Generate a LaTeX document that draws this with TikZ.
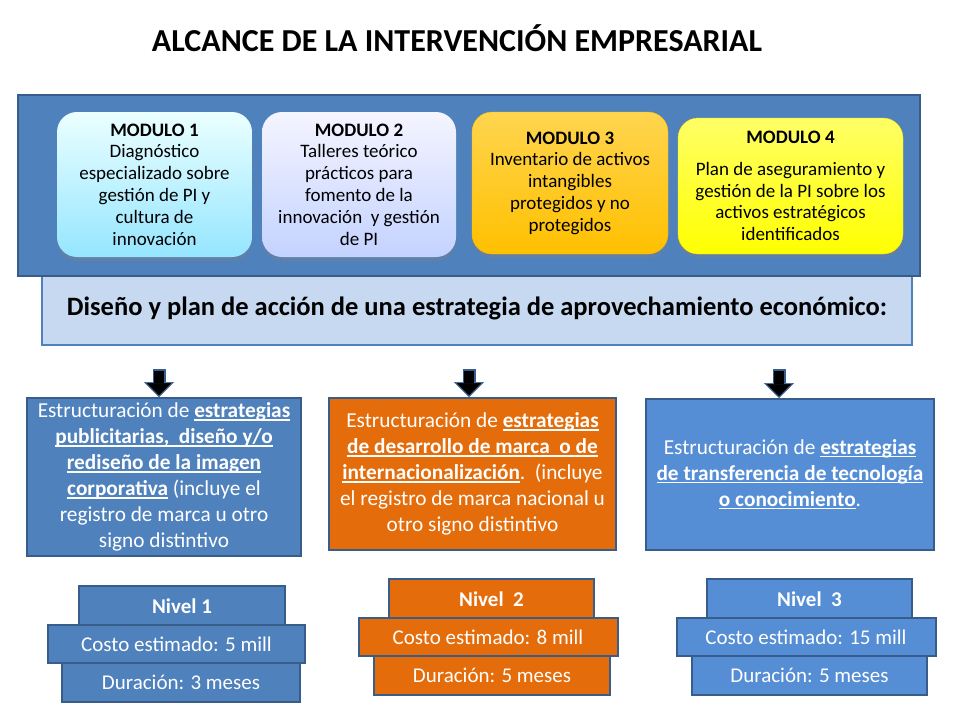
\documentclass[tikz,border=0pt]{standalone}
\usepackage{fontspec}
\setmainfont{Carlito}
\usepackage{tikz}
\usetikzlibrary{shapes, arrows, calc, positioning, backgrounds, fit, shadows}
\usetikzlibrary{arrows.meta}
\definecolor{azulpanel}{HTML}{4F81BD}
\definecolor{azulborde}{HTML}{385D8A}
\definecolor{azulclaro}{HTML}{C6D9F1}
\definecolor{azulmedio}{HTML}{558ED5}
\definecolor{naranja}{HTML}{E46C0A}
\definecolor{ambar}{HTML}{FFC000}
\definecolor{ambarclaro}{HTML}{FFD54F}
\newcommand{\subr}[1]{\setbox0\hbox{#1}\rlap{\rule[-3pt]{\wd0}{1.4pt}}\box0\relax}

\begin{document}
\begin{tikzpicture}[
    x=1pt, y=-1pt,
    every node/.style={inner sep=0pt, align=center},
    modulo/.style={rectangle, rounded corners=20pt, font=\fontsize{19}{21.8}\selectfont,
        drop shadow={shadow xshift=0pt, shadow yshift=-4pt, opacity=.35}},
    estrategia/.style={rectangle, draw=azulborde, line width=2pt, text=white,
        font=\fontsize{21.3}{26}\selectfont},
    nivel/.style={rectangle, draw=azulborde, line width=2pt, text=white,
        minimum height=40pt, font=\fontsize{21}{22}\selectfont},
    flecha borde/.style={azulborde, line width=13pt, shorten <=23pt,
        -{Triangle[width=30pt, length=15pt, line width=.5pt]}},
    flecha/.style={black, line width=9.5pt, shorten <=24.5pt, shorten >=2pt,
        -{Triangle[width=24pt, length=12pt, line width=.5pt]}}
]
\useasboundingbox (0,0) rectangle (960,720);
% Title
\node[font=\fontsize{32}{34}\selectfont\bfseries] (titulo) at (457,38)
    {ALCANCE DE LA INTERVENCIÓN EMPRESARIAL};
% Banner and module panel
\node[rectangle, draw=azulpanel, line width=2pt, fill=azulclaro,
      minimum width=870pt, minimum height=73pt,
      font=\fontsize{26.5}{28}\selectfont\bfseries] (diseno) at (477,308.5)
    {Diseño y plan de acción de una estrategia de aprovechamiento económico:};
\node[rectangle, draw=azulborde, line width=2pt, fill=azulpanel,
      minimum width=902pt, minimum height=181pt] (panel) at (469,185.5) {};
% Modules
\node[modulo, top color=cyan!8, bottom color=cyan!35!white!90!blue,
      minimum width=195pt, minimum height=145pt] (mod1) at (154.5,184.5)
    {\textbf{MODULO 1}\\Diagnóstico\\especializado sobre\\gestión de PI y\\cultura de\\innovación};
\node[modulo, top color=blue!4, bottom color=blue!30!cyan!10!white!85!blue,
      minimum width=194pt, minimum height=145pt] (mod2) at (359,184.5)
    {\textbf{MODULO 2}\\Talleres teórico\\prácticos para\\fomento de la\\innovación\ \ y gestión\\de PI};
\node[modulo, draw=ambar!90!orange, top color=ambarclaro, bottom color=ambar,
      minimum width=196pt, minimum height=142pt] (mod3) at (570,183)
    {\textbf{MODULO 3}\\Inventario de activos\\intangibles\\protegidos y no\\protegidos};
\node[modulo, draw=yellow!80!orange, top color=yellow!60!white, bottom color=yellow,
      minimum width=225pt, minimum height=136pt] (mod4) at (790.5,186)
    {\textbf{MODULO 4}\\[10pt]Plan de aseguramiento y\\gestión de la PI sobre los\\activos estratégicos\\identificados};
% Strategy boxes
\node[estrategia, fill=azulpanel, minimum width=274pt, minimum height=158pt] (estr1) at (164,477)
    {Estructuración de \subr{\textbf{estrategias}}\\
     \subr{\textbf{publicitarias,\ \ diseño y/o}}\\
     \subr{\textbf{rediseño de la imagen}}\\
     \subr{\textbf{corporativa}} (incluye el\\
     registro de marca u otro\\
     signo distintivo};
\node[estrategia, fill=naranja, minimum width=287pt, minimum height=152pt] (estr2) at (472.5,474)
    {Estructuración de \subr{\textbf{estrategias}}\\
     \subr{\textbf{de desarrollo de marca\ \ o de}}\\
     \subr{\textbf{internacionalización}}.\ \ (incluye\\
     el registro de marca nacional u\\
     otro signo distintivo};
\node[estrategia, fill=azulmedio, minimum width=288pt, minimum height=151pt] (estr3) at (790,474.5)
    {Estructuración de \subr{\textbf{estrategias}}\\
     \subr{\textbf{de transferencia de tecnología}}\\
     \subr{\textbf{o conocimiento}}.};
% Block arrows
\foreach \e/\dx in {estr1/-5, estr2/-3.5, estr3/-11} {
    \draw[flecha borde] ([xshift=\dx pt]\e.north |- diseno.south) -- ([xshift=\dx pt]\e.north);
    \draw[flecha] ([xshift=\dx pt]\e.north |- diseno.south) -- ([xshift=\dx pt]\e.north);
}
% Level stacks
\node[nivel, fill=azulpanel, minimum width=257pt, minimum height=38pt] (costo1) at (176.5,644) {Costo estimado: 5 mill};
\node[nivel, fill=naranja, minimum width=259pt, minimum height=38pt] (costo2) at (488,637) {Costo estimado: 8 mill};
\node[nivel, fill=azulmedio, minimum width=259pt, minimum height=38pt] (costo3) at (806,637) {Costo estimado: 15 mill};
\begin{scope}[on background layer]
    \node[nivel, fill=azulpanel, minimum width=206pt, above=-3pt of costo1, xshift=5.5pt, font=\fontsize{21}{22}\selectfont\bfseries] (nivel1) {Nivel 1};
    \node[nivel, fill=azulpanel, minimum width=238pt, below=-3pt of costo1, xshift=4.5pt] (dur1) {Duración: 3 meses};
    \node[nivel, fill=naranja, minimum width=205pt, above=-3pt of costo2, xshift=3.5pt, font=\fontsize{21}{22}\selectfont\bfseries] (nivel2) {Nivel\ \ 2};
    \node[nivel, fill=naranja, minimum width=236pt, below=-3pt of costo2, xshift=4pt] (dur2) {Duración: 5 meses};
    \node[nivel, fill=azulmedio, minimum width=205pt, above=-3pt of costo3, xshift=3.5pt, font=\fontsize{21}{22}\selectfont\bfseries] (nivel3) {Nivel\ \ 3};
    \node[nivel, fill=azulmedio, minimum width=235pt, below=-3pt of costo3, xshift=3.5pt] (dur3) {Duración: 5 meses};
\end{scope}
\end{tikzpicture}
\end{document}
